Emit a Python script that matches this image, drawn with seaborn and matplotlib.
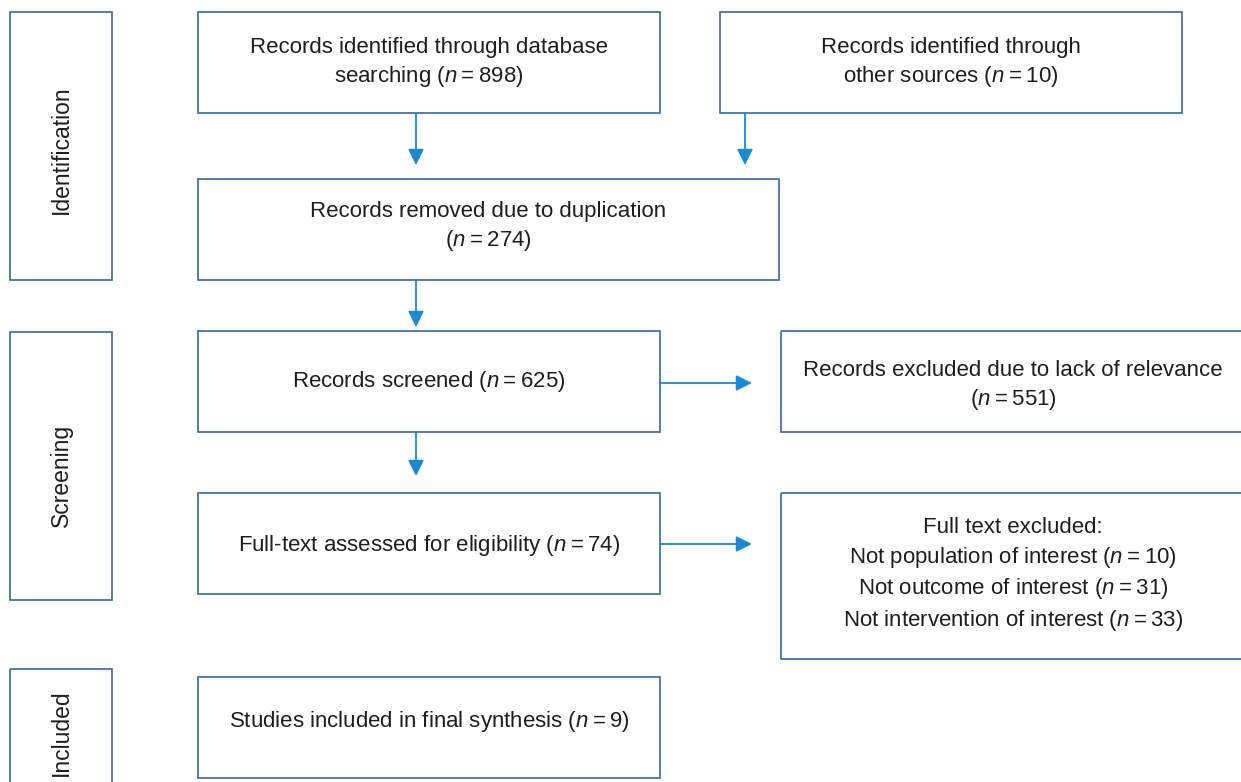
import matplotlib
matplotlib.use("Agg")
import matplotlib.pyplot as plt
import seaborn as sns
from matplotlib.patches import Rectangle

# flow data
stage_names = ["Identification", "Screening", "Included"]
step_labels = [
    "Records identified through database\nsearching ($n$\u2009=\u2009898)",
    "Records identified through\nother sources ($n$\u2009=\u200910)",
    "Records removed due to duplication\n($n$\u2009=\u2009274)",
    "Records screened ($n$\u2009=\u2009625)",
    "Records excluded due to lack of relevance\n($n$\u2009=\u2009551)",
    "Full-text assessed for eligibility ($n$\u2009=\u200974)",
    "Full text excluded:\nNot population of interest ($n$\u2009=\u200910)\n"
    "Not outcome of interest ($n$\u2009=\u200931)\nNot intervention of interest ($n$\u2009=\u200933)",
    "Studies included in final synthesis ($n$\u2009=\u20099)",
]

# layout in pixel units (x0, y0, x1, y1)
stage_boxes = [(10, 12, 112, 280), (10, 332, 112, 600), (10, 669, 112, 800)]
stage_text_y = [150, 475, 733]
step_boxes = [
    (198, 12, 660, 113),
    (720, 12, 1182, 113),
    (198, 179, 779, 280),
    (198, 331, 660, 432),
    (781, 331, 1250, 432),
    (198, 493, 660, 594),
    (781, 493, 1250, 659),
    (198, 677, 660, 778),
]
step_text_xy = [(429, 63), (951, 63), (488, 227), (429, 381), (1013, 386),
                (429, 545), (1013, 575), (429, 721)]
arrows = [
    ((416, 113), (416, 165)),
    ((745, 113), (745, 165)),
    ((416, 280), (416, 327)),
    ((416, 432), (416, 476)),
    ((660, 383), (752, 383)),
    ((660, 544), (752, 544)),
]

BOX_COLOR = "#3468ad"
ARROW_COLOR = "#1a8ad2"
TEXT_COLOR = "#1e1e1e"

sns.set_theme(style="white")
plt.rcParams["font.family"] = ["Liberation Sans", "DejaVu Sans"]
plt.rcParams["mathtext.fontset"] = "custom"
plt.rcParams["mathtext.rm"] = "Liberation Sans"
plt.rcParams["mathtext.it"] = "Liberation Sans:italic"

fig = plt.figure(figsize=(12.41, 7.82), dpi=100)
ax = fig.add_axes([0, 0, 1, 1])
ax.set_xlim(0, 1241)
ax.set_ylim(782, 0)
ax.axis("off")

for (x0, y0, x1, y1), name, ty in zip(stage_boxes, stage_names, stage_text_y):
    ax.add_patch(Rectangle((x0, y0), x1 - x0, y1 - y0, fill=False,
                           edgecolor=BOX_COLOR, lw=1.2, clip_on=True))
    ax.text((x0 + x1) / 2, ty, name, rotation=90, ha="center", va="center",
            fontsize=16.5, color=TEXT_COLOR)

for (x0, y0, x1, y1), label, (tx, ty) in zip(step_boxes, step_labels, step_text_xy):
    ax.add_patch(Rectangle((x0, y0), x1 - x0, y1 - y0, fill=False,
                           edgecolor=BOX_COLOR, lw=1.2, clip_on=True))
    ax.text(tx, ty, label, ha="center", va="center", fontsize=16,
            color=TEXT_COLOR, linespacing=1.38, multialignment="center")

for start, end in arrows:
    ax.annotate("", xy=end, xytext=start,
                arrowprops=dict(arrowstyle="-|>", color=ARROW_COLOR, lw=1.3,
                                mutation_scale=24, shrinkA=0, shrinkB=0))

fig.savefig("out.png", dpi=100, facecolor="white")
